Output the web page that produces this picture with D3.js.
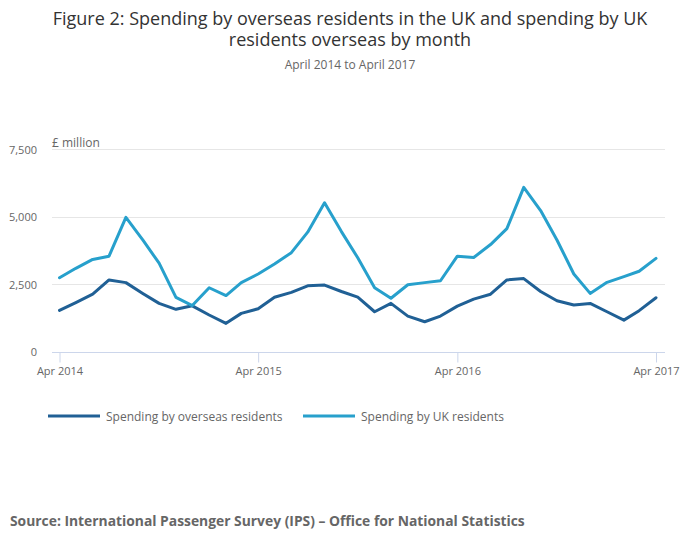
<!DOCTYPE html>
<html><head><meta charset="utf-8">
<script src="https://cdn.jsdelivr.net/npm/d3@7"></script>
<style>body{margin:0;background:#fff;font-family:"Open Sans",sans-serif;}</style>
</head><body><svg id="c" width="700" height="549"></svg>
<script>
const months = d3.range(37).map(i => new Date(2014, 3 + i, 1));
const overseasResidents = [1530,1820,2130,2660,2560,2160,1790,1570,1700,1360,1050,1420,1590,2020,2200,2440,2470,2230,2020,1480,1790,1320,1110,1320,1690,1950,2130,2660,2710,2230,1890,1730,1790,1480,1170,1520,2000];
const ukResidents = [2740,3090,3420,3540,4980,4140,3280,2010,1710,2370,2080,2560,2880,3250,3670,4430,5520,4450,3480,2370,1980,2480,2560,2630,3540,3490,3970,4560,6090,5230,4140,2880,2160,2570,2780,2980,3460];
const yTicks = [0,2500,5000,7500];
const xTickDates = [new Date(2014,3,1), new Date(2015,3,1), new Date(2016,3,1), new Date(2017,3,1)];
const seriesNames = ["Spending by overseas residents","Spending by UK residents"];
const colors = ["#206095","#27a0cc"];
const titleLines = ["Figure 2: Spending by overseas residents in the UK and spending by UK","residents overseas by month"];

const svg = d3.select("#c");
const x = d3.scaleTime().domain([months[0], months[36]]).range([59.5, 656]);
const y = d3.scaleLinear().domain([0,7500]).range([351.7,149.3]);

const title = svg.append("text").attr("x",350).attr("y",25).attr("text-anchor","middle").attr("font-size",18).attr("fill","#333");
title.selectAll("tspan").data(titleLines).join("tspan").attr("x",350).attr("dy",(d,i)=>i?21:0).text(d=>d);
svg.append("text").attr("x",350).attr("y",69).attr("text-anchor","middle").attr("font-size",12).attr("fill","#666")
  .text("April 2014 to April 2017");

// grid
svg.append("g").selectAll("line").data(yTicks.filter(d=>d>0)).join("line")
  .attr("x1",52).attr("x2",665).attr("y1",d=>Math.round(y(d))+0.5).attr("y2",d=>Math.round(y(d))+0.5)
  .attr("stroke","#e6e6e6").attr("stroke-width",1);

// y axis labels
const yAxis = d3.axisLeft(y).tickValues(yTicks).tickFormat(d3.format(",")).tickSize(0).tickPadding(0);
const gy = svg.append("g").attr("transform","translate(37,0)").call(yAxis);
gy.select(".domain").remove();
gy.selectAll("text").attr("font-size",11).attr("fill","#666").attr("font-family","Open Sans").attr("dy","0.35em");

svg.append("text").attr("x",52).attr("y",147).attr("font-size",12).attr("fill","#666").text("£ million");

// x axis
const xAxis = d3.axisBottom(x).tickValues(xTickDates).tickFormat(d3.timeFormat("%b %Y")).tickSize(10).tickPadding(5).tickSizeOuter(0);
const gx = svg.append("g").attr("transform",`translate(0,${Math.round(y(0))+0.5})`).call(xAxis);
gx.select(".domain").attr("d","M52,0H665").attr("stroke","#ccd6eb");
gx.selectAll(".tick line").attr("stroke","#ccd6eb");
gx.selectAll("text").attr("font-size",11).attr("fill","#666").attr("font-family","Open Sans");

// lines
const line = d3.line().x((d,i)=>x(months[i])).y(d=>y(d)).curve(d3.curveLinear);
[overseasResidents, ukResidents].forEach((s,k)=>{
  svg.append("path").datum(s).attr("d",line).attr("fill","none").attr("stroke",colors[k])
    .attr("stroke-width",3).attr("stroke-linejoin","round").attr("stroke-linecap","round");
});

// legend
const legendX = [48, 303];
seriesNames.forEach((n,k)=>{
  svg.append("line").attr("x1",legendX[k]).attr("x2",legendX[k]+52).attr("y1",416).attr("y2",416)
    .attr("stroke",colors[k]).attr("stroke-width",3);
  svg.append("text").attr("x",legendX[k]+58).attr("y",420.5).attr("font-size",12).attr("fill","#666").text(n);
});

svg.append("text").attr("x",10).attr("y",526).attr("font-size",13.85).attr("font-weight","bold").attr("fill","#666")
  .text("Source: International Passenger Survey (IPS) – Office for National Statistics");
</script></body></html>
